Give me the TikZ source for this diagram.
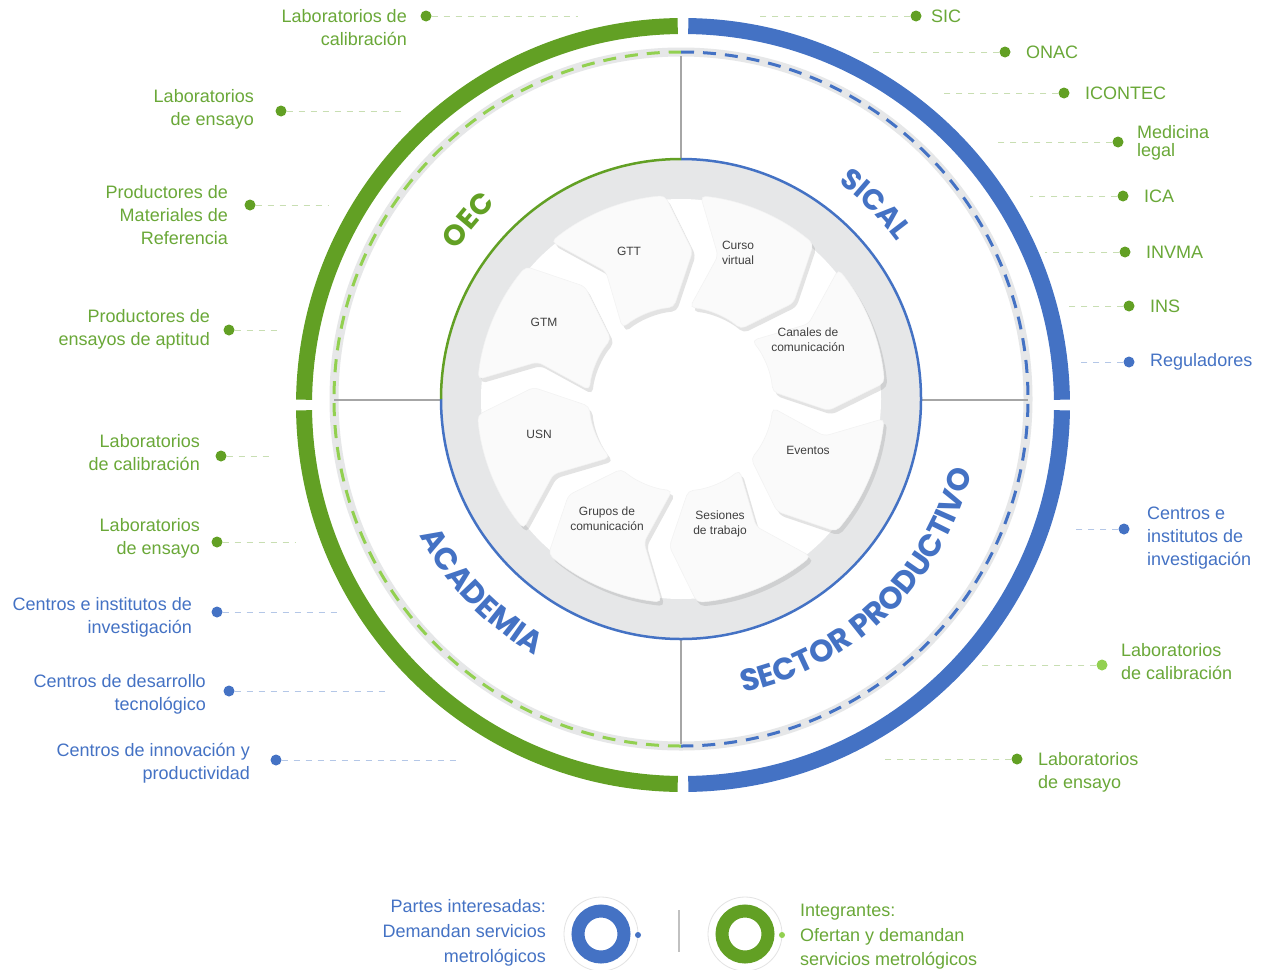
\documentclass[tikz,border=0pt]{standalone}
\usepackage{fontspec}
\setmainfont{Liberation Sans}
\newfontfamily\quadfont{Poppins}
\usetikzlibrary{calc, decorations.text, shadows}
\definecolor{grn}{HTML}{62A024}
\definecolor{txtg}{HTML}{6AA838}
\definecolor{lgrn}{HTML}{92D050}
\definecolor{blu}{HTML}{4472C4}
\definecolor{bandgray}{HTML}{E6E7E8}
\definecolor{crossgray}{HTML}{A6A6A6}
\definecolor{piecetxt}{HTML}{404040}
\tikzset{
    ringg/.style={draw=grn, line width=16},
    ringb/.style={draw=blu, line width=16},
    dashg/.style={draw=lgrn, line width=3, dash pattern=on 13pt off 9pt},
    dashb/.style={draw=blu, line width=3, dash pattern=on 13pt off 9pt},
    crossline/.style={draw=crossgray, line width=1.5},
    dotg/.style={circle, fill=grn, minimum size=11pt, inner sep=0pt},
    dotb/.style={circle, fill=blu, minimum size=11pt, inner sep=0pt},
    dotl/.style={circle, fill=lgrn, minimum size=11pt, inner sep=0pt},
    lblg/.style={text=txtg, font=\fontsize{18}{23}\selectfont, inner sep=0pt},
    lblb/.style={text=blu, font=\fontsize{18}{23}\selectfont, inner sep=0pt},
    leadg/.style={draw=grn!35, line width=0.8, dash pattern=on 6pt off 6pt},
    leadb/.style={draw=blu!40, line width=0.8, dash pattern=on 6pt off 6pt},
    piece/.style={fill=gray!4, draw=gray!10, line width=0.5, rounded corners=5pt,
        drop shadow={opacity=0.22, shadow xshift=3pt, shadow yshift=-4pt}},
    piecelbl/.style={text=piecetxt, font=\fontsize{12}{15}\selectfont, align=center, inner sep=0pt},
    quad/.style={decorate, decoration={text along path, text align=center, text color=#1}},
}
% one arrow of the cycle, centred on a screen angle
\newcommand{\cyclepiece}[1]{%
    \path[piece] ($(C)+(#1-20:204)$) arc[start angle=#1-20, end angle=#1+15, radius=204]
        -- ($(C)+(#1+24:148)$) -- ($(C)+(#1+15:92)$)
        arc[start angle=#1+15, end angle=#1-20, radius=92]
        -- ($(C)+(#1-11:148)$) -- cycle;}

\begin{document}
\begin{tikzpicture}[x=1pt,y=-1pt]
    \fill[white] (0,0) rectangle (1268,969);
    \useasboundingbox (0,0) rectangle (1268,969);
    \coordinate (C) at (681,399);
    \coordinate (R) at (683,405);

    % outer ring
    \draw[ringg] (R) ++(180.8:379) arc[start angle=180.8, end angle=269.2, radius=379];
    \draw[ringb] (R) ++(270.8:379) arc[start angle=270.8, end angle=359.2, radius=379];
    \draw[ringb] (R) ++(0.8:379) arc[start angle=0.8, end angle=89.2, radius=379];
    \draw[ringg] (R) ++(90.8:379) arc[start angle=90.8, end angle=179.2, radius=379];

    % dashed ring
    \draw[bandgray, line width=9] (C) circle[radius=347];
    \draw[dashg] (C) ++(90:347) arc[start angle=90, end angle=270, radius=347];
    \draw[dashb] (C) ++(270:347) arc[start angle=270, end angle=450, radius=347];

    % cross
    \coordinate (vt1) at (681,159); \coordinate (vt2) at (681,56);
    \coordinate (vb1) at (681,639); \coordinate (vb2) at (681,744);
    \coordinate (hl1) at (441,400); \coordinate (hl2) at (334,400);
    \coordinate (hr1) at (921,400); \coordinate (hr2) at (1028,400);
    \draw[crossline] (vt1) -- (vt2);
    \draw[crossline] (vb1) -- (vb2);
    \draw[crossline] (hl1) -- (hl2);
    \draw[crossline] (hr1) -- (hr2);

    % inner disc
    \fill[bandgray] (C) circle[radius=240];
    \draw[blu, line width=2.5] (C) ++(270:240) arc[start angle=270, end angle=540, radius=240];
    \draw[grn, line width=2.5] (C) ++(180:240) arc[start angle=180, end angle=270, radius=240];
    \fill[white] (C) circle[radius=200];

    % cycle
    \cyclepiece{205.5}
    \cyclepiece{250.5}
    \cyclepiece{295.5}
    \cyclepiece{340.5}
    \cyclepiece{25.5}
    \cyclepiece{70.5}
    \cyclepiece{115.5}
    \cyclepiece{160.5}
    \node[piecelbl] (gtt) at (629,251) {GTT};
    \node[piecelbl] (curso) at (738,253) {Curso\\virtual};
    \node[piecelbl] (canales) at (808,340) {Canales de\\comunicación};
    \node[piecelbl] (eventos) at (808,450) {Eventos};
    \node[piecelbl] (sesiones) at (720,524) {Sesiones\\de trabajo};
    \node[piecelbl] (grupos) at (607,519) {Grupos de\\comunicación};
    \node[piecelbl] (usn) at (539,434) {USN};
    \node[piecelbl] (gtm) at (544,322) {GTM};

    % quadrant names
    \path[quad=grn, decoration={text={|\quadfont\bfseries\fontsize{29}{31}\selectfont|OEC}}]
        (C) ++(195:269) arc[start angle=195, end angle=245, radius=269];
    \path[quad=blu, decoration={text={|\quadfont\bfseries\fontsize{29}{31}\selectfont|SICAL}}]
        (C) ++(285:267) arc[start angle=285, end angle=345, radius=267];
    \path[quad=blu, decoration={text={|\quadfont\bfseries\fontsize{31}{33}\selectfont|ACADEMIA}}]
        (C) ++(178:295) arc[start angle=178, end angle=94, radius=295];
    \path[quad=blu, decoration={text={|\quadfont\bfseries\fontsize{31}{33}\selectfont|SECTOR PRODUCTIVO}}]
        (C) ++(100:300) arc[start angle=100, end angle=-8, radius=300];

    % left labels
    \node[dotg] (dl1) at (426,16) {};
    \node[lblg, anchor=east, align=right] (tl1) at (407,28) {Laboratorios de\\calibración};
    \coordinate (el1) at (578,16);
    \node[dotg] (dl2) at (281,111) {};
    \node[lblg, anchor=east, align=right] (tl2) at (254,109.5) {Laboratorios\\de ensayo};
    \coordinate (el2) at (402,111);
    \node[dotg] (dl3) at (250,205) {};
    \node[lblg, anchor=east, align=right] (tl3) at (228,215) {Productores de\\Materiales de\\Referencia};
    \coordinate (el3) at (328,205);
    \node[dotg] (dl4) at (229,330) {};
    \node[lblg, anchor=east, align=right] (tl4) at (210,329.5) {Productores de\\ensayos de aptitud};
    \coordinate (el4) at (280,330);
    \node[dotg] (dl5) at (221,456) {};
    \node[lblg, anchor=east, align=right] (tl5) at (200,453) {Laboratorios\\de calibración};
    \coordinate (el5) at (270,456);
    \node[dotg] (dl6) at (217,542) {};
    \node[lblg, anchor=east, align=right] (tl6) at (200,538.5) {Laboratorios\\de ensayo};
    \coordinate (el6) at (296,542);
    \node[dotb] (dl7) at (217,612) {};
    \node[lblb, anchor=east, align=right] (tl7) at (192,617.5) {Centros e institutos de\\investigación};
    \coordinate (el7) at (338,612);
    \node[dotb] (dl8) at (229,691) {};
    \node[lblb, anchor=east, align=right] (tl8) at (206,694.5) {Centros de desarrollo\\tecnológico};
    \coordinate (el8) at (385,691);
    \node[dotb] (dl9) at (276,760) {};
    \node[lblb, anchor=east, align=right] (tl9) at (250,763.5) {Centros de innovación y\\productividad};
    \coordinate (el9) at (460,760);
    \draw[leadg] (dl1) -- (el1);
    \draw[leadg] (dl2) -- (el2);
    \draw[leadg] (dl3) -- (el3);
    \draw[leadg] (dl4) -- (el4);
    \draw[leadg] (dl5) -- (el5);
    \draw[leadg] (dl6) -- (el6);
    \draw[leadb] (dl7) -- (el7);
    \draw[leadb] (dl8) -- (el8);
    \draw[leadb] (dl9) -- (el9);

    % right labels
    \node[dotg] (dr1) at (916,16) {};
    \node[lblg, anchor=west] (tr1) at (931,16) {SIC};
    \coordinate (er1) at (760,16);
    \node[dotg] (dr2) at (1005,52) {};
    \node[lblg, anchor=west] (tr2) at (1026,52) {ONAC};
    \coordinate (er2) at (870,52);
    \node[dotg] (dr3) at (1064,93) {};
    \node[lblg, anchor=west] (tr3) at (1085,93) {ICONTEC};
    \coordinate (er3) at (943,93);
    \node[dotg] (dr4) at (1118,142) {};
    \node[lblg, anchor=west, align=left, font=\fontsize{18}{18}\selectfont] (tr4) at (1137,143) {Medicina\\legal};
    \coordinate (er4) at (998,142);
    \node[dotg] (dr5) at (1123,196) {};
    \node[lblg, anchor=west] (tr5) at (1144,196) {ICA};
    \coordinate (er5) at (1030,196);
    \node[dotg] (dr6) at (1125,252) {};
    \node[lblg, anchor=west] (tr6) at (1146,252) {INVMA};
    \coordinate (er6) at (1045,252);
    \node[dotg] (dr7) at (1129,306) {};
    \node[lblg, anchor=west] (tr7) at (1150,306) {INS};
    \coordinate (er7) at (1065,306);
    \node[dotb] (dr8) at (1129,362) {};
    \node[lblb, anchor=west] (tr8) at (1150,362) {Reguladores};
    \coordinate (er8) at (1080,362);
    \node[dotb] (dr9) at (1124,529) {};
    \node[lblb, anchor=west, align=left] (tr9) at (1147,538) {Centros e\\institutos de\\investigación};
    \coordinate (er9) at (1075,529);
    \node[dotl] (dr10) at (1102,665) {};
    \node[lblg, anchor=west, align=left] (tr10) at (1121,662) {Laboratorios\\de calibración};
    \coordinate (er10) at (980,665);
    \node[dotg] (dr11) at (1017,759) {};
    \node[lblg, anchor=west, align=left] (tr11) at (1038,772) {Laboratorios\\de ensayo};
    \coordinate (er11) at (880,759);
    \draw[leadg] (dr1) -- (er1);
    \draw[leadg] (dr2) -- (er2);
    \draw[leadg] (dr3) -- (er3);
    \draw[leadg] (dr4) -- (er4);
    \draw[leadg] (dr5) -- (er5);
    \draw[leadg] (dr6) -- (er6);
    \draw[leadg] (dr7) -- (er7);
    \draw[leadb] (dr8) -- (er8);
    \draw[leadb] (dr9) -- (er9);
    \draw[leadg] (dr10) -- (er10);
    \draw[leadg] (dr11) -- (er11);

    % legend
    \coordinate (lb) at (601,934);
    \coordinate (lg) at (745,934);
    \draw[gray!22, line width=0.8] (lb) circle[radius=37];
    \draw[gray!22, line width=0.8] (lg) circle[radius=37];
    \draw[blu, line width=13] (lb) circle[radius=23];
    \draw[grn, line width=13] (lg) circle[radius=23];
    \node[circle, fill=blu, minimum size=6pt, inner sep=0pt] (lbdot) at (638,935) {};
    \node[circle, fill=lgrn, minimum size=6pt, inner sep=0pt] (lgdot) at (782,935) {};
    \coordinate (sep1) at (679,910); \coordinate (sep2) at (679,952);
    \draw[crossgray!70, line width=1.2] (sep1) -- (sep2);
    \node[lblb, anchor=east, align=right, font=\fontsize{18}{25}\selectfont] (leg1) at (546,933)
        {Partes interesadas:\\Demandan servicios\\metrológicos};
    \node[lblg, anchor=west, align=left, font=\fontsize{18}{24.5}\selectfont] (leg2) at (800,937)
        {Integrantes:\\Ofertan y demandan\\servicios metrológicos};
\end{tikzpicture}
\end{document}
